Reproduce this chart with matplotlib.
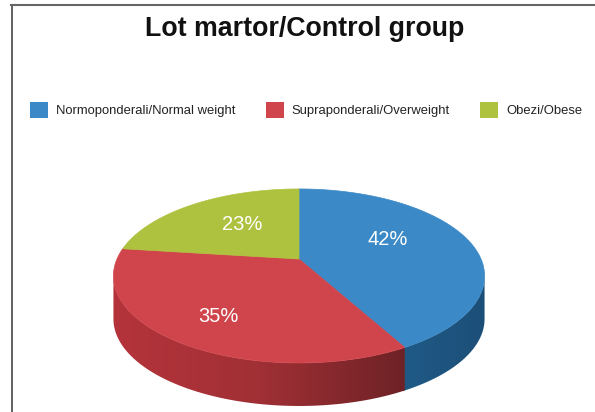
import numpy as np
import matplotlib
matplotlib.use('Agg')
import matplotlib.pyplot as plt
from matplotlib.colors import LinearSegmentedColormap
from matplotlib.patches import Patch, Polygon

plt.rcParams['font.family'] = ['Liberation Sans', 'DejaVu Sans']

title = 'Lot martor/Control group'
labels = ['Normoponderali/Normal weight', 'Supraponderali/Overweight', 'Obezi/Obese']
shares = [42, 35, 23]
colors = ['#3b89c6', '#d0454b', '#afc23f']
side_colors = [['#1f5a86', '#1c4f78'], ['#b5343b', '#a03035', '#6e2226'], ['#8a9a30', '#8a9a30']]

# pie geometry in pixels
cx, cy = 299, 259
rx, a, k = 182, 83.7, 0.195
depth = 43


# circle point -> perspective view, angle is clockwise from 12 o'clock
def project(theta):
    u = np.sin(theta)
    t = -np.cos(theta)
    w = 1 - k * t
    return cx + rx * u / w, cy + a * t / w


fig = plt.figure(figsize=(5.95, 4.12), dpi=100)
ax = fig.add_axes([0, 0, 1, 1])

edges = np.cumsum([0] + shares) / sum(shares) * 2 * np.pi
grad = np.linspace(0, 1, 256).reshape(1, -1)

# side wall, only the part facing the viewer (silhouette where cos(theta) = -k)
vis_start = np.arccos(-k)
vis_end = 2 * np.pi - vis_start
for i in range(len(shares)):
    lo = max(edges[i], vis_start)
    hi = min(edges[i + 1], vis_end)
    if hi <= lo:
        continue
    # small overlap so no seam shows between two walls
    th = np.linspace(lo, min(hi + 0.01, vis_end), 200)
    x, y = project(th)
    poly = Polygon(np.column_stack([np.r_[x, x[::-1]], np.r_[y, y[::-1] + depth]]), closed=True,
                   fc='none', ec='none', transform=ax.transData)
    ax.add_patch(poly)
    cmap = LinearSegmentedColormap.from_list(f'side{i}', side_colors[i])
    im = ax.imshow(grad, cmap=cmap, aspect='auto',
                   extent=(x.min(), x.max(), y.max() + depth, y.min()), zorder=1 + i * 0.1)
    im.set_clip_path(poly)

# top face
for i in range(len(shares)):
    th = np.linspace(edges[i], edges[i + 1], 150)
    x, y = project(th)
    ax.add_patch(Polygon(np.column_stack([np.r_[cx, x], np.r_[cy, y]]), closed=True,
                         fc=colors[i], ec=colors[i], lw=0.5, zorder=2))

# percent labels
label_x = [388, 218, 242]
label_y = [239, 316, 224]
for s, lx, ly in zip(shares, label_x, label_y):
    ax.text(lx, ly, f'{s}%', color='white', fontsize=14.5, ha='center', va='center', zorder=3)

ax.text(305, 29, title, fontsize=19.3, fontweight='bold', color='#111111', ha='center', va='center')

handles = [Patch(fc=c, ec='none') for c in colors]
ax.legend(handles, labels, ncol=3, frameon=False, fontsize=9.4, loc='center left',
          bbox_to_anchor=(30 / 595, 1 - 110 / 412), bbox_transform=ax.transAxes,
          handlelength=1.38, handleheight=1.6, handletextpad=0.62, columnspacing=2.3,
          borderpad=0, borderaxespad=0, labelcolor='#222222')

# frame of the picture
ax.plot([11.5, 11.5], [412, 5], color='#555555', lw=1.3)
ax.plot([11, 595], [5, 5], color='#666666', lw=1.5)

ax.set_xlim(0, 595)
ax.set_ylim(412, 0)
ax.axis('off')

fig.savefig('out.png', dpi=100)
